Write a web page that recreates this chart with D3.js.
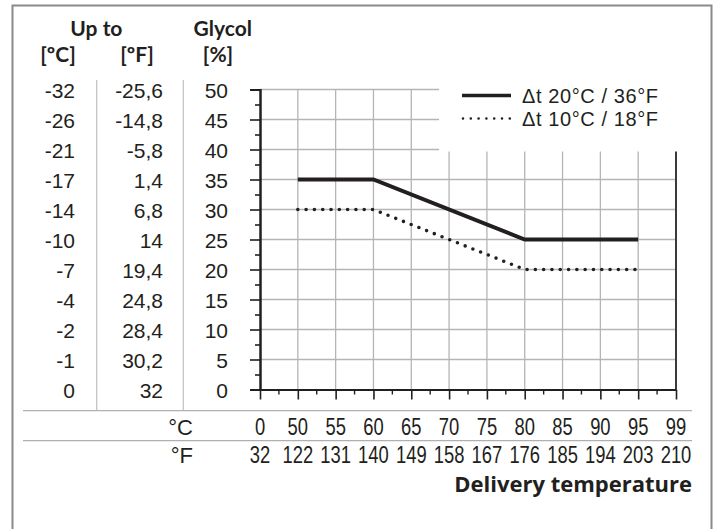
<!DOCTYPE html>
<html>
<head>
<meta charset="utf-8">
<script src="https://cdn.jsdelivr.net/npm/d3@7"></script>
<style>
  html, body { margin: 0; padding: 0; background: #fff; }
  svg { display: block; }
  .num { font-family: "Liberation Sans", Arial, Helvetica, sans-serif; fill: #231f20; }
  .head { font-family: Lato, "Open Sans", sans-serif; font-weight: 700; fill: #231f20; }
  .title { font-family: "Open Sans", "Noto Sans", sans-serif; font-weight: 700; fill: #231f20; }
</style>
</head>
<body>
<svg id="chart" width="715" height="529"></svg>
<script>
// Delivery temperature categories (°C) and their °F equivalents
const tempC = ["0", "50", "55", "60", "65", "70", "75", "80", "85", "90", "95", "99"];
const tempF = ["32", "122", "131", "140", "149", "158", "167", "176", "185", "194", "203", "210"];

// Glycol percentage ticks and the matching "up to" freezing temperatures
const glycolTicks = [50, 45, 40, 35, 30, 25, 20, 15, 10, 5, 0];
const upToC = ["-32", "-26", "-21", "-17", "-14", "-10", "-7", "-4", "-2", "-1", "0"];
const upToF = ["-25,6", "-14,8", "-5,8", "1,4", "6,8", "14", "19,4", "24,8", "28,4", "30,2", "32"];

// Required glycol % by delivery temperature
const dt20Temps = ["50", "60", "80", "95"];
const dt20Glycol = [35, 35, 25, 25];
const dt10Temps = ["50", "60", "80", "95"];
const dt10Glycol = [30, 30, 20, 20];

const seriesNames = ["\u0394t 20\u00b0C / 36\u00b0F", "\u0394t 10\u00b0C / 18\u00b0F"];

const svg = d3.select("#chart");
const ink = "#231f20";
const gridCol = "#b5b5b5";

const x = d3.scalePoint().domain(tempC).range([260, 676]);
const y = d3.scaleLinear().domain([0, 50]).range([389.5, 89.5]);

// outer frame
svg.append("rect")
  .attr("x", 12.5).attr("y", 5.5).attr("width", 699).attr("height", 540)
  .attr("fill", "none").attr("stroke", "#8a8a8a").attr("stroke-width", 2);

// grid
const grid = svg.append("g");
grid.selectAll("line.h").data(glycolTicks.filter(v => v > 0)).join("line")
  .attr("x1", x(tempC[0])).attr("x2", x(tempC[tempC.length - 1]))
  .attr("y1", d => y(d)).attr("y2", d => y(d))
  .attr("stroke", gridCol).attr("stroke-width", 1.3);
grid.selectAll("line.v").data(tempC.slice(1, -1)).join("line")
  .attr("x1", d => x(d)).attr("x2", d => x(d))
  .attr("y1", y(50)).attr("y2", y(0))
  .attr("stroke", gridCol).attr("stroke-width", 1.3);

// right frame of the plot
svg.append("line")
  .attr("x1", x("99")).attr("x2", x("99"))
  .attr("y1", y(50)).attr("y2", y(0))
  .attr("stroke", "#3a3a3a").attr("stroke-width", 2);

// legend background clears the grid behind it
svg.append("rect")
  .attr("x", 439).attr("y", 82).attr("width", 260).attr("height", 69.5)
  .attr("fill", "#fff");

// y axis (major + minor ticks)
const yAxis = svg.append("g").attr("transform", `translate(${x(tempC[0])},0)`)
  .call(d3.axisLeft(y).tickValues(glycolTicks).tickSize(10).tickFormat(""));
const yMinor = svg.append("g").attr("transform", `translate(${x(tempC[0])},0)`)
  .call(d3.axisLeft(y).tickValues(d3.range(2.5, 50, 5)).tickSize(5).tickFormat(""));
[yAxis, yMinor].forEach(g => {
  g.select(".domain").attr("stroke", ink).attr("stroke-width", 2);
  g.selectAll(".tick line").attr("stroke", ink).attr("stroke-width", 1.6);
});

// x axis (major ticks + minor ticks midway)
const xAxis = svg.append("g").attr("transform", `translate(0,${y(0)})`)
  .call(d3.axisBottom(x).tickSize(10).tickSizeOuter(0).tickFormat(""));
xAxis.select(".domain").attr("stroke", ink).attr("stroke-width", 2);
xAxis.selectAll(".tick line").attr("stroke", ink).attr("stroke-width", 1.6);
const mids = tempC.slice(0, -1).map((d, i) => (x(d) + x(tempC[i + 1])) / 2);
svg.append("g").selectAll("line").data(mids).join("line")
  .attr("x1", d => d).attr("x2", d => d)
  .attr("y1", y(0)).attr("y2", y(0) + 5)
  .attr("stroke", ink).attr("stroke-width", 1.4);

// series lines
const line = d3.line().x(d => x(d[0])).y(d => y(d[1]));
svg.append("path")
  .datum(d3.zip(dt20Temps, dt20Glycol))
  .attr("d", line).attr("fill", "none")
  .attr("stroke", ink).attr("stroke-width", 4);
svg.append("path")
  .datum(d3.zip(dt10Temps, dt10Glycol))
  .attr("d", line).attr("fill", "none")
  .attr("stroke", ink).attr("stroke-width", 3.6)
  .attr("stroke-linecap", "round").attr("stroke-dasharray", "0 8.3");

// legend
const lg = svg.append("g");
lg.append("line").attr("x1", 462).attr("x2", 511).attr("y1", 95.5).attr("y2", 95.5)
  .attr("stroke", ink).attr("stroke-width", 3.4);
lg.append("line").attr("x1", 463).attr("x2", 511).attr("y1", 118.5).attr("y2", 118.5)
  .attr("stroke", ink).attr("stroke-width", 2.6)
  .attr("stroke-linecap", "round").attr("stroke-dasharray", "0 7.8");
lg.selectAll("text").data(seriesNames).join("text")
  .attr("class", "num").attr("x", 522).attr("y", (d, i) => 102.5 + i * 23)
  .attr("font-size", 20).attr("letter-spacing", 0.6).text(d => d);

// left table: glycol % and "up to" temperatures
const rowDy = 8.8;
svg.append("g").selectAll("text").data(glycolTicks).join("text")
  .attr("class", "num").attr("x", 228).attr("y", d => y(d) + rowDy)
  .attr("text-anchor", "end").attr("font-size", 21).text(d => d);
svg.append("g").selectAll("text").data(upToC).join("text")
  .attr("class", "num").attr("x", 75).attr("y", (d, i) => y(glycolTicks[i]) + rowDy)
  .attr("text-anchor", "end").attr("font-size", 21).text(d => d);
svg.append("g").selectAll("text").data(upToF).join("text")
  .attr("class", "num").attr("x", 163).attr("y", (d, i) => y(glycolTicks[i]) + rowDy)
  .attr("text-anchor", "end").attr("font-size", 21).text(d => d);

// column separators
[96.7, 183.3].forEach(cx => {
  svg.append("line").attr("x1", cx).attr("x2", cx).attr("y1", 80).attr("y2", 410.7)
    .attr("stroke", "#c4c4c4").attr("stroke-width", 1.3);
});

// headers
const heads = [
  { t: "Up to", cx: 96.4, by: 36 },
  { t: "Glycol", cx: 222.8, by: 36 },
  { t: "[ºC]", cx: 58, by: 62 },
  { t: "[ºF]", cx: 137, by: 62 },
  { t: "[%]", cx: 218, by: 62 }
];
svg.append("g").selectAll("text").data(heads).join("text")
  .attr("class", "head").attr("x", d => d.cx).attr("y", d => d.by)
  .attr("text-anchor", "middle").attr("font-size", 21).text(d => d.t);

// bottom table rules
[410.7, 440.7].forEach(ly => {
  svg.append("line").attr("x1", 23).attr("x2", 692).attr("y1", ly).attr("y2", ly)
    .attr("stroke", "#b0b0b0").attr("stroke-width", 1.3);
});

// unit labels
svg.append("text").attr("class", "num").attr("x", 193).attr("y", 435)
  .attr("text-anchor", "end").attr("font-size", 22).text("°C");
svg.append("text").attr("class", "num").attr("x", 193).attr("y", 463)
  .attr("text-anchor", "end").attr("font-size", 22).text("°F");

// temperature labels (condensed)
const labelRow = (arr, by) => svg.append("g").selectAll("text").data(arr).join("text")
  .attr("class", "num")
  .attr("transform", (d, i) => `translate(${x(tempC[i])},${by}) scale(0.8,1)`)
  .attr("text-anchor", "middle").attr("font-size", 23).text(d => d);
labelRow(tempC, 435);
labelRow(tempF, 463);

// axis title
svg.append("text").attr("class", "title").attr("x", 692).attr("y", 492)
  .attr("text-anchor", "end").attr("font-size", 22).text("Delivery temperature");
</script>
</body>
</html>
